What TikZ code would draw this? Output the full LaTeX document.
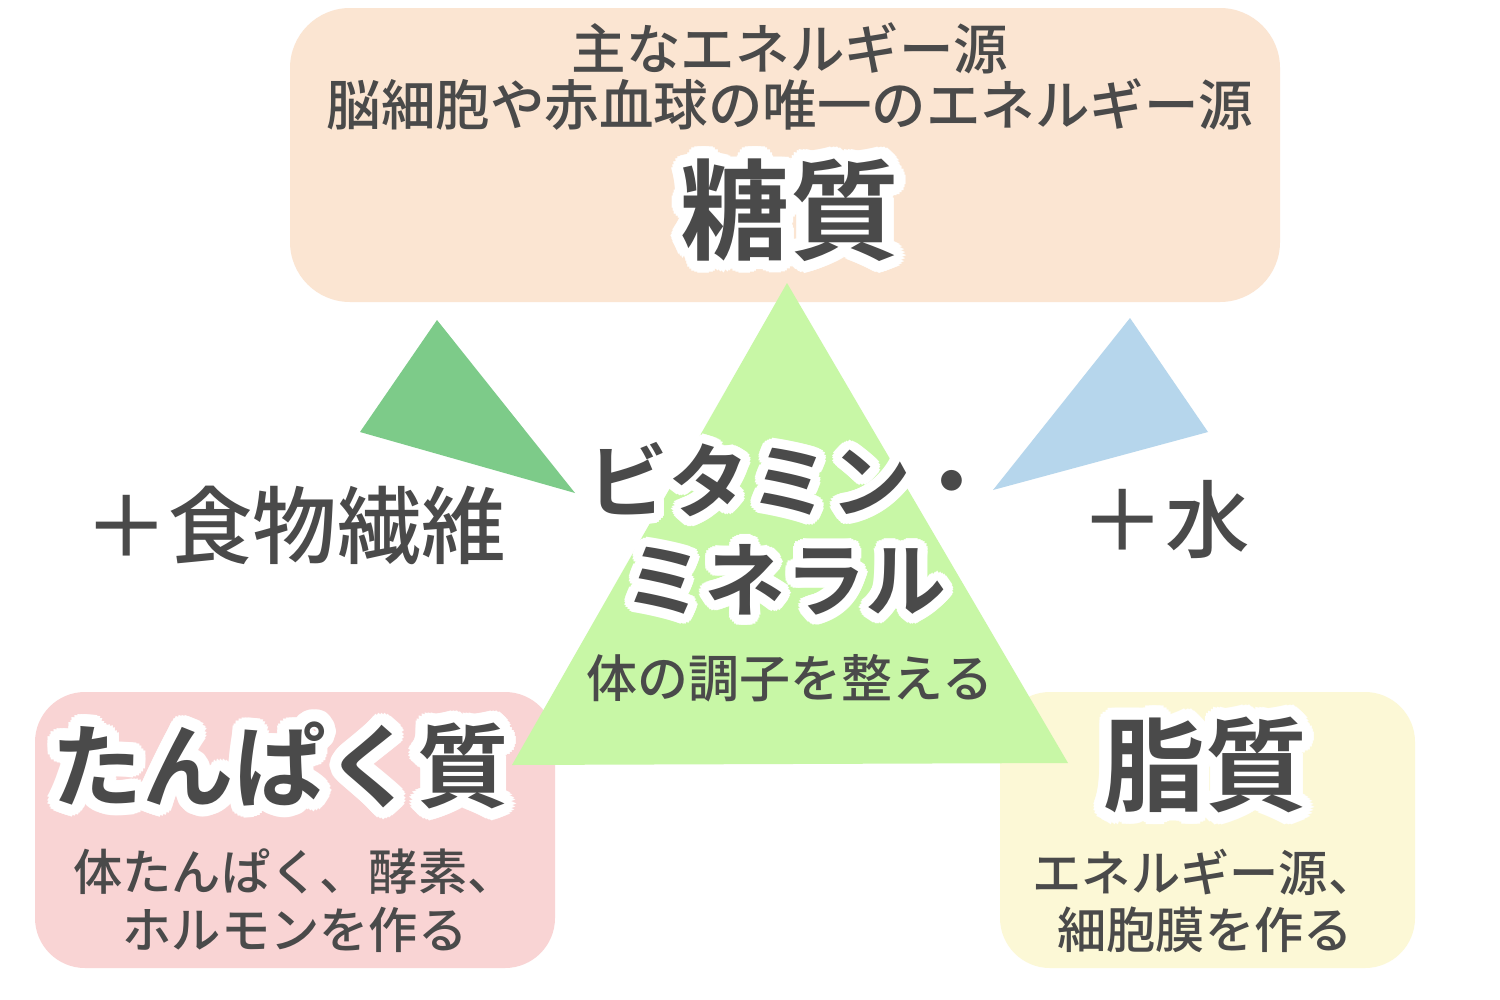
\documentclass[tikz,border=0pt]{standalone}
\usepackage{fontspec}
\newfontfamily\jp{Noto Sans CJK JP Medium}
\newfontfamily\jpb{Noto Sans CJK JP Bold}
\definecolor{tx}{HTML}{4A4A4A}
\definecolor{peach}{HTML}{FBE5D2}
\definecolor{pinkb}{HTML}{F9D4D4}
\definecolor{yelb}{HTML}{FCF8D6}
\definecolor{lg}{HTML}{C8F7A6}
\definecolor{dg}{HTML}{7DCB89}
\definecolor{bl}{HTML}{B6D6EC}
\newcommand\halo[4]{%
 \foreach \a in {0,15,...,345}{\node[text=white,font=#3,inner sep=0pt] at ($(#1)+(\a:#4)$) {#2};}%
}
\usetikzlibrary{calc}
\tikzset{txt/.style={text=tx,align=center,inner sep=0pt}}
\begin{document}
\begin{tikzpicture}[x=0.01cm,y=-0.01cm]
\useasboundingbox (0,0) rectangle (1500,1000);
\fill[white] (0,0) rectangle (1500,1000);
\fill[peach,rounded corners=0.6cm] (290,8) rectangle (1280,302);
\fill[pinkb,rounded corners=0.5cm] (35,692) rectangle (555,968);
\fill[yelb,rounded corners=0.5cm] (1000,692) rectangle (1415,968);
\fill[lg] (787,283) -- (1068,763) -- (512,765) -- cycle;
\fill[dg] (437,320) -- (575,493) -- (360,432) -- cycle;
\fill[bl] (1130,318) -- (1208,432) -- (993,490) -- cycle;
% top
\node[txt,font=\jp\fontsize{15.5}{18}\selectfont] (t1) at (790,48) {主なエネルギー源};
\node[txt,font=\jp\fontsize{15.5}{18}\selectfont] (t2) at (790,105) {脳細胞や赤血球の唯一のエネルギー源};
\halo{790,210}{糖質}{\jpb\fontsize{31}{36}\selectfont}{0.12cm}
\node[txt,font=\jpb\fontsize{31}{36}\selectfont] (toushitsu) at (790,210) {糖質};
% side
\node[txt,font=\jp\fontsize{24}{28}\selectfont] (fib) at (295,525) {＋食物繊維};
\node[txt,font=\jp\fontsize{24}{28}\selectfont] (mizu) at (1165,520) {＋水};
% center
\halo{790,480}{ビタミン・}{\jpb\fontsize{23}{27}\selectfont}{0.1cm}
\halo{785,580}{ミネラル}{\jpb\fontsize{23}{27}\selectfont}{0.1cm}
\node[txt,font=\jpb\fontsize{23}{27}\selectfont] (vit) at (790,480) {ビタミン・};
\node[txt,font=\jpb\fontsize{23}{27}\selectfont] (min) at (785,580) {ミネラル};
\node[txt,font=\jp\fontsize{14.5}{17}\selectfont] (cho) at (790,678) {体の調子を整える};
% protein
\halo{280,765}{たんぱく質}{\jpb\fontsize{26}{30}\selectfont}{0.12cm}
\node[txt,font=\jpb\fontsize{26}{30}\selectfont] (prot) at (280,765) {たんぱく質};
\node[txt,font=\jp\fontsize{14}{17}\selectfont] (p1) at (295,872) {体たんぱく、酵素、};
\node[txt,font=\jp\fontsize{14}{17}\selectfont] (p2) at (295,930) {ホルモンを作る};
% fat
\halo{1205,765}{脂質}{\jpb\fontsize{29}{34}\selectfont}{0.12cm}
\node[txt,font=\jpb\fontsize{29}{34}\selectfont] (fat) at (1205,765) {脂質};
\node[txt,font=\jp\fontsize{14}{17}\selectfont] (f1) at (1205,872) {エネルギー源、};
\node[txt,font=\jp\fontsize{14}{17}\selectfont] (f2) at (1205,930) {細胞膜を作る};
\end{tikzpicture}
\end{document}
